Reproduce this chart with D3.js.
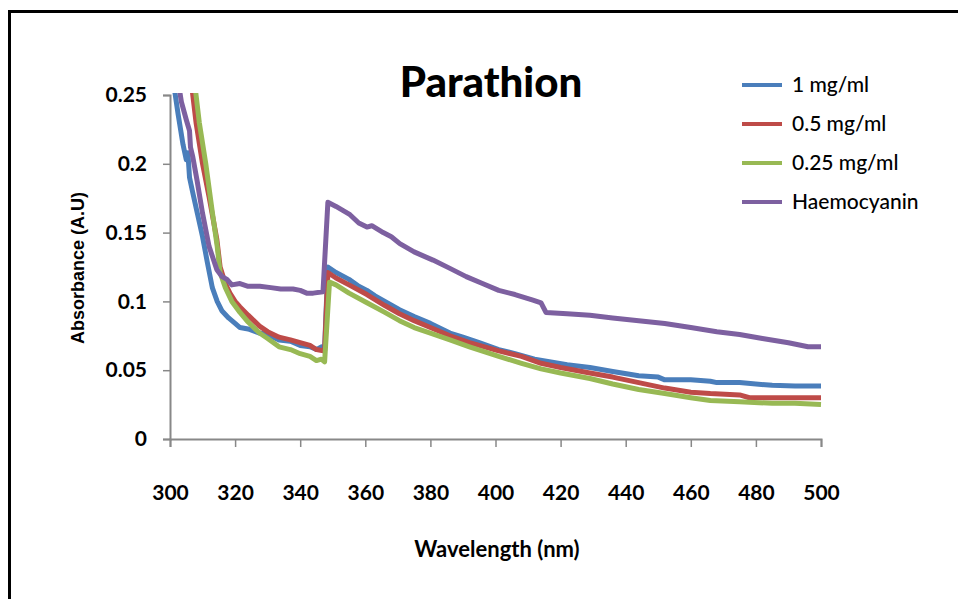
<!DOCTYPE html>
<html>
<head>
<meta charset="utf-8">
<script src="https://cdn.jsdelivr.net/npm/d3@7"></script>
<style>
	body { margin: 0; background: #fff; }
	text { font-family: Lato, "DejaVu Sans", sans-serif; }
</style>
</head>
<body>
<svg id="chart"></svg>
<script>
// chart data
var seriesNames = ['1 mg/ml', '0.5 mg/ml', '0.25 mg/ml', 'Haemocyanin'],
	seriesColors = ['#4a7ebb', '#be4b48', '#98b954', '#7d60a0'];

var xTicks = [300, 320, 340, 360, 380, 400, 420, 440, 460, 480, 500],
	yTicks = [0, 0.05, 0.1, 0.15, 0.2, 0.25];

// [wavelength, absorbance]
var blue = [[301, 0.26], [302.5, 0.236], [304, 0.214], [305, 0.203], [305.5, 0.208], [306, 0.19],
	[307, 0.179], [308.5, 0.163], [310, 0.147], [311.5, 0.128], [313, 0.11], [314.5, 0.1],
	[316, 0.093], [318, 0.088], [320, 0.084], [321.5, 0.081], [324, 0.080], [327.5, 0.077],
	[330, 0.076], [333.5, 0.072], [337, 0.071], [340, 0.068], [343, 0.067], [345, 0.065],
	[346.5, 0.067], [347.5, 0.066], [348.5, 0.125], [351, 0.121], [355, 0.116], [358, 0.111],
	[360.5, 0.108], [363, 0.104], [366, 0.1], [370.5, 0.094], [375, 0.089], [380, 0.084],
	[386, 0.077], [390, 0.074], [395, 0.070], [401, 0.065], [406, 0.062], [412, 0.058],
	[417, 0.056], [422, 0.054], [429, 0.052], [436, 0.049], [444, 0.046], [450, 0.045],
	[452, 0.043], [460, 0.043], [466, 0.042], [468, 0.041], [475, 0.041], [485, 0.039],
	[492, 0.0385], [500, 0.0385]];

var red = [[306.5, 0.26], [308, 0.23], [310, 0.2], [312, 0.176], [314.4, 0.145], [315.4, 0.125],
	[317, 0.113], [318.4, 0.106], [320, 0.1], [321.5, 0.096], [324, 0.09], [327.5, 0.082],
	[330, 0.078], [333.5, 0.074], [337, 0.072], [340, 0.07], [343, 0.068], [345, 0.065],
	[347.5, 0.064], [348.5, 0.121], [351, 0.117], [355, 0.112], [360.5, 0.105], [366, 0.097],
	[370.5, 0.091], [375, 0.086], [380, 0.081], [386, 0.075], [392, 0.07], [401, 0.064],
	[408, 0.06], [414, 0.055], [420, 0.052], [429, 0.048], [436, 0.045], [444, 0.041],
	[452, 0.037], [460, 0.034], [466, 0.033], [475, 0.032], [478, 0.030], [490, 0.030],
	[500, 0.030]];

var green = [[307.5, 0.26], [309, 0.23], [311, 0.2], [313, 0.165], [314.5, 0.14], [315.4, 0.121],
	[317, 0.11], [319, 0.1], [321.5, 0.092], [324, 0.085], [327.5, 0.077], [330, 0.073],
	[333.5, 0.067], [337, 0.065], [340, 0.062], [343, 0.06], [345, 0.057], [346.5, 0.058],
	[347.5, 0.056], [349, 0.114], [351, 0.112], [355, 0.106], [360.5, 0.099], [366, 0.092],
	[370.5, 0.086], [375, 0.081], [380, 0.077], [386, 0.072], [392, 0.067], [401, 0.06],
	[408, 0.055], [414, 0.051], [420, 0.048], [429, 0.044], [436, 0.04], [444, 0.036],
	[452, 0.033], [460, 0.030], [466, 0.028], [475, 0.027], [485, 0.026], [492, 0.026],
	[500, 0.025]];

var purple = [[302.5, 0.26], [303.5, 0.245], [305, 0.232], [306, 0.224], [306.3, 0.212],
	[307, 0.205], [308.3, 0.188], [310, 0.164], [312, 0.14], [314.4, 0.123], [316, 0.118],
	[317.5, 0.116], [319, 0.112], [321.5, 0.113], [324, 0.111], [327.6, 0.111], [331, 0.11],
	[334, 0.109], [337.8, 0.109], [340, 0.108], [342, 0.106], [344, 0.106], [347, 0.107],
	[348.5, 0.172], [351, 0.169], [355.3, 0.163], [358, 0.157], [360.5, 0.154], [362, 0.155],
	[365.5, 0.15], [368, 0.147], [370.6, 0.142], [375, 0.136], [380.8, 0.13], [386, 0.124],
	[391, 0.118], [396, 0.113], [401, 0.108], [406, 0.105], [411.5, 0.101], [414, 0.099],
	[415.5, 0.092], [422, 0.091], [429, 0.09], [436, 0.088], [444, 0.086], [452, 0.084],
	[460, 0.081], [468, 0.078], [475, 0.076], [482, 0.073], [490, 0.07], [496, 0.067],
	[500, 0.067]];

var seriesData = [blue, red, green, purple];

var width = 958,
	height = 599,
	plotLeft = 170,
	plotRight = 821,
	plotTop = 95,
	plotBottom = 439;

var svg = d3.select('#chart')
	.attr('width', width)
	.attr('height', height);

// outer frame (only top and left show in the picture)
svg.append('path')
	.attr('d', 'M9.5,' + height + 'V11.5H' + width)
	.attr('fill', 'none')
	.attr('stroke', '#000')
	.attr('stroke-width', 3);

var x = d3.scaleLinear().domain([300, 500]).range([plotLeft, plotRight]);
var y = d3.scaleLinear().domain([0, 0.25]).range([plotBottom, plotTop]);

// axes
var xAxis = svg.append('g')
	.attr('transform', 'translate(0,' + plotBottom + ')')
	.call(d3.axisBottom(x).tickValues(xTicks).tickSize(8).tickPadding(38).tickFormat(d3.format('d')));

var yAxis = svg.append('g')
	.attr('transform', 'translate(' + plotLeft + ',0)')
	.call(d3.axisLeft(y).tickValues(yTicks).tickSize(7).tickPadding(16).tickFormat(function(d) {
		return d === 0 ? '0' : String(+d.toFixed(2));
	}));

[xAxis, yAxis].forEach(function(a) {
	a.select('.domain').attr('stroke', '#888').attr('stroke-width', 2);
	a.selectAll('.tick line').attr('stroke', '#888').attr('stroke-width', 1.5);
	a.selectAll('.tick text')
		.attr('fill', '#000')
		.style('font-size', '21px')
		.style('font-weight', 'bold')
		.style('font-family', 'Lato, sans-serif');
});

// clip lines to plot area
svg.append('clipPath').attr('id', 'plot-clip')
	.append('rect')
		.attr('x', plotLeft)
		.attr('y', plotTop - 2)
		.attr('width', plotRight - plotLeft + 4)
		.attr('height', plotBottom - plotTop + 2);

var line = d3.line()
	.x(function(d) { return x(d[0]); })
	.y(function(d) { return y(d[1]); });

svg.append('g')
	.attr('clip-path', 'url(#plot-clip)')
	.selectAll('.series')
	.data(seriesData)
	.enter().append('path')
		.attr('class', 'series')
		.attr('fill', 'none')
		.attr('stroke', function(d, i) { return seriesColors[i]; })
		.attr('stroke-width', 5)
		.attr('stroke-linejoin', 'round')
		.attr('d', line);

// title
svg.append('text')
	.attr('x', 491)
	.attr('y', 97)
	.attr('text-anchor', 'middle')
	.style('font-size', '42px')
	.style('font-weight', 900)
	.text('Parathion');

// axis titles
svg.append('text')
	.attr('x', 497)
	.attr('y', 557)
	.attr('text-anchor', 'middle')
	.style('font-size', '22px')
	.style('font-weight', 'bold')
	.text('Wavelength  (nm)');

svg.append('text')
	.attr('transform', 'translate(84,268) rotate(-90)')
	.attr('text-anchor', 'middle')
	.style('font-family', '"Liberation Sans", Arial, sans-serif')
	.style('font-size', '18px')
	.style('font-weight', 'bold')
	.text('Absorbance  (A.U)');

// legend
var legend = svg.selectAll('.legend')
	.data(seriesNames)
	.enter().append('g')
		.attr('class', 'legend')
		.attr('transform', function(d, i) {
			return 'translate(742,' + (85 + i * 39) + ')';
		});

legend.append('line')
	.attr('x1', 0)
	.attr('x2', 40)
	.attr('stroke', function(d, i) { return seriesColors[i]; })
	.attr('stroke-width', 4);

legend.append('text')
	.attr('x', 50)
	.attr('dy', '0.35em')
	.style('font-size', '21px')
	.style('font-weight', 500)
	.text(function(d) { return d; });
</script>
</body>
</html>
